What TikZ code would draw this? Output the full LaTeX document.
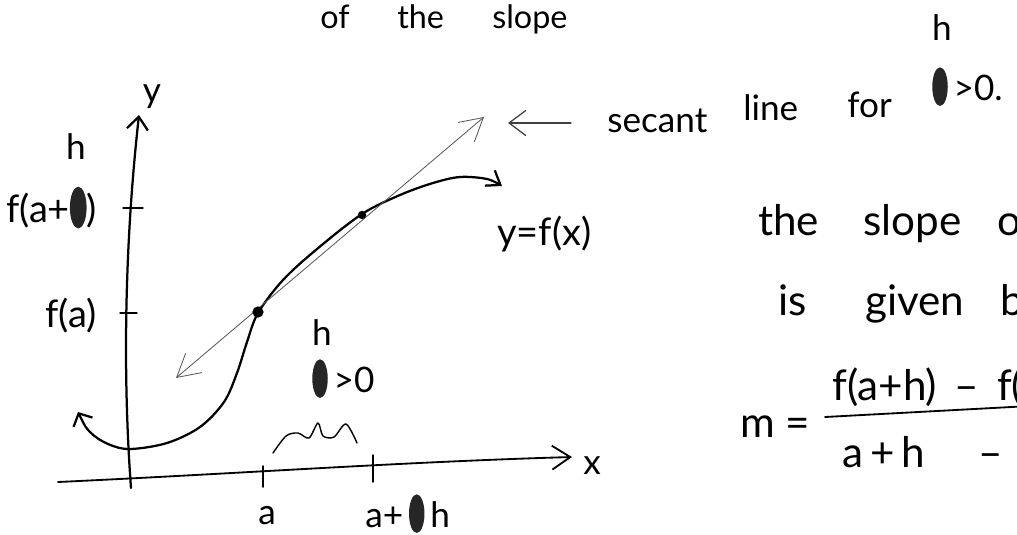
\documentclass[tikz,border=0pt]{standalone}
\usepackage{fontspec}
\setmainfont{Lato}
\usetikzlibrary{arrows.meta}

\newcommand{\smudge}{\tikz[baseline=0pt]\fill[black!85] (0.22em,0.38em) ellipse (0.22em and 0.55em);}

\begin{document}
\begin{tikzpicture}[x=0.025cm, y=-0.025cm, line cap=round, line join=round,
    hand/.style={font=\fontsize{25}{28}\selectfont, inner sep=0pt, anchor=base west},
    big/.style={font=\fontsize{30}{33}\selectfont, inner sep=0pt, anchor=base west},
    letter/.style={font=\fontsize{25}{28}\selectfont, inner sep=0pt},
    pen/.style={black, line width=1.6pt},
    secant/.style={black!65, line width=0.6pt},
    dotmark/.style={circle, fill=black, inner sep=0pt}]
    \useasboundingbox (0,0) rectangle (1017,534);
    \clip (0,0) rectangle (1017,534);

    % The two axes, drawn by hand so a little bent.
        \coordinate (yFoot) at (131,488);
        \coordinate (yTip) at (139,115);
        \coordinate (xFoot) at (58,482);
        \coordinate (xTip) at (572,457);
        \draw[pen, -{Straight Barb[length=9pt,width=15pt]}] (yFoot) .. controls (123,380) and (124,250) .. (yTip);
        \draw[pen, line width=1.3pt, -{Straight Barb[length=13pt,width=17pt]}] (xFoot) .. controls (250,473) and (400,462) .. (xTip);
    % Ticks on both axes.
        \draw[pen, line width=1pt] (123,208) -- (143,208);
        \draw[pen, line width=1pt] (120,313) -- (137,313);
        \draw[pen, line width=1.3pt] (263,466) -- (263,487);
        \draw[pen, line width=1pt] (373,455) -- (373,482);

    % The graph y=f(x) and the secant through its two points.
        \draw[pen, {Straight Barb[length=7pt,width=15pt]}-{Straight Barb[length=9pt,width=13pt]}]
            plot[smooth, tension=0.55] coordinates {(78,412) (90,432) (108,444) (130,449) (167,443) (200,427)
            (224,402) (237,373) (247,342) (258,313) (283,280) (317,249) (362,214) (400,195) (433,183)
            (460,177) (487,179) (502,186)};
        \coordinate (secL) at (176,378);
        \coordinate (secR) at (484,117);
        \draw[secant, {Straight Barb[length=16pt,width=18pt]}-{Straight Barb[length=16pt,width=18pt]}] (secL) -- (secR);
        \node[dotmark, minimum width=8pt, minimum height=8pt] (ptA) at (258,312) {};
        \node[dotmark, minimum size=6pt] (ptB) at (362,215) {};
        \draw[pen, line width=1pt] plot[smooth, tension=0.5] coordinates {(273,453) (286,436) (298,433)
            (309,438) (318,423) (323,436) (334,437) (346,424) (357,443)};

    % Below nodes are the labels.
        \node[letter] (yLabel) at (152,97) {y};
        \node[letter] (xLabel) at (592,466) {x};
        \node[letter] (hTop) at (76,147) {h};
        \node[hand, font=\fontsize{27}{30}\selectfont] (fahLabel) at (6,222) {f(a+\smudge)};
        \node[hand, font=\fontsize{27}{30}\selectfont] (faLabel) at (45,327) {f(a)};
        \node[letter] (aLabel) at (267,516) {a};
        \node[hand] (ahLabel) at (365,527) {a+\,\smudge\,h};
        \node[letter] (hMid) at (322,333) {h};
        \node[hand] (hPos) at (312,392) {\smudge\,>0};
        \node[hand, font=\fontsize{27}{30}\selectfont] (curveLabel) at (497,245) {y=f(x)};

    % Pointer to the secant line.
        \coordinate (ptrTail) at (571,123);
        \coordinate (ptrTip) at (508,123);
        \draw[black!75, line width=0.9pt, -{Straight Barb[length=12pt,width=18pt]}] (ptrTail) -- (ptrTip);
        \node[hand] (secWord) at (607,132) {secant};
        \node[hand] (lineWord) at (743,120) {line};
        \node[hand] (forWord) at (847,117) {for};
        \node[hand] (hPosTwo) at (932,100) {\smudge\,>0.};
        \node[letter] (hRight) at (942,28) {h};

    % Text on the top and on the right.
        \node[hand, font=\fontsize{23}{26}\selectfont] (ofTop) at (320,28) {of};
        \node[hand, font=\fontsize{23}{26}\selectfont] (theTop) at (397,28) {the};
        \node[hand, font=\fontsize{23}{26}\selectfont] (slopeTop) at (492,28) {slope};
        \node[big] (theWord) at (758,235) {the};
        \node[big] (slopeWord) at (863,235) {slope};
        \node[big] (ofWord) at (997,235) {of};
        \node[big] (isWord) at (778,315) {is};
        \node[big] (givenWord) at (865,315) {given};
        \node[big] (byWord) at (1000,315) {by};
        \node[big] (mEq) at (740,437) {m =};
        \node[big] (numer) at (832,400) {f(a+h) \,–\, f(a)};
        \node[big] (denom) at (842,467) {a\,+\,h \quad–\, a};
        \coordinate (barL) at (825,417);
        \coordinate (barR) at (1030,406);
        \draw[pen, line width=1.3pt] (barL) -- (barR);
\end{tikzpicture}
\end{document}
